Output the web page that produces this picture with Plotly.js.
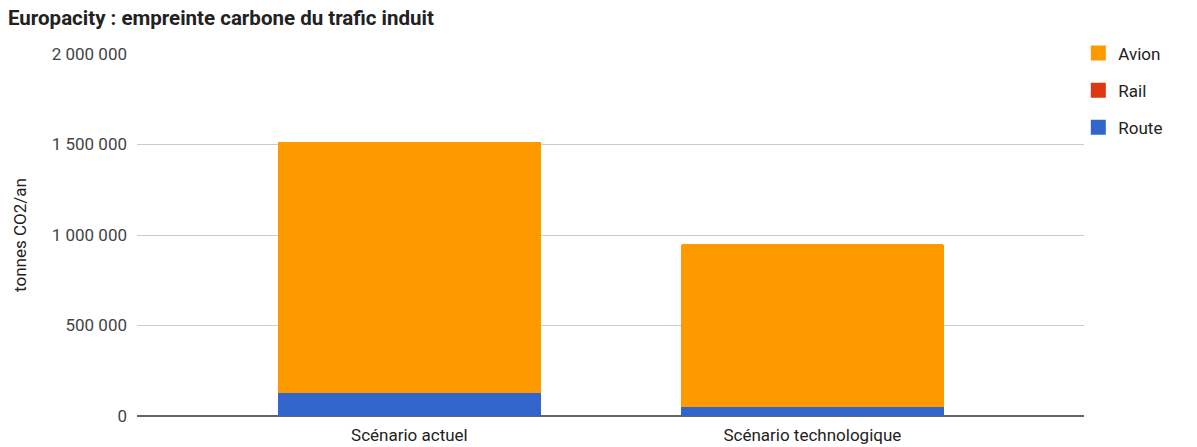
<!DOCTYPE html>
<html>
<head>
<meta charset="utf-8">
<script src="https://cdn.plot.ly/plotly-3.0.1.min.js"></script>
<style>
  html, body { margin: 0; padding: 0; background: #ffffff; }
  #chart { width: 1197px; height: 447px; }
</style>
</head>
<body>
<div id="chart"></div>
<script>
// Scénarios comparés
const scenarios = ["Scénario actuel", "Scénario technologique"];

// Émissions annuelles par mode de transport (tonnes CO2/an)
const route = [127000, 50000];
const rail = [800, 600];
const avion = [1387000, 898000];

const seriesNames = ["Route", "Rail", "Avion"];
const seriesColors = ["#3366cc", "#dc3912", "#ff9900"];
const seriesValues = [route, rail, avion];
// Legend lists Avion first, Route last
const legendRanks = [3, 2, 1];

const yTicks = [0, 500000, 1000000, 1500000, 2000000];

// Stacked bars (bottom to top: Route, Rail, Avion)
const barTraces = seriesValues.map((vals, i) => ({
  type: "bar",
  name: seriesNames[i],
  x: scenarios,
  y: vals,
  marker: { color: seriesColors[i], line: { width: 0 } },
  width: 0.653,
  showlegend: false,
  hoverinfo: "x+y+name"
}));

// Legend entries with larger square swatches
const legendTraces = seriesNames.map((name, i) => ({
  type: "scatter",
  mode: "markers",
  name: name,
  x: [null],
  y: [null],
  marker: { symbol: "square", size: 15, color: seriesColors[i] },
  legendgroup: name,
  legendrank: legendRanks[i],
  hoverinfo: "skip"
}));

const layout = {
  width: 1197,
  height: 447,
  barmode: "stack",
  barcornerradius: 2,
  separators: ", ",
  paper_bgcolor: "#ffffff",
  plot_bgcolor: "#ffffff",
  font: { family: "Roboto, Arial, sans-serif", size: 17, color: "#444444" },
  margin: { l: 137, r: 113, t: 54, b: 31.3, pad: 0 },
  title: {
    text: "<b>Europacity : empreinte carbone du trafic induit</b>",
    font: { family: "Roboto, Arial, sans-serif", size: 20.5, color: "#222222" },
    x: 8 / 1197, xanchor: "left", xref: "container",
    y: 1 - 18 / 447, yanchor: "middle", yref: "container"
  },
  xaxis: {
    type: "category",
    range: [-0.676, 1.674],
    showgrid: false,
    zeroline: false,
    showline: false,
    ticks: "",
    ticklabelstandoff: 7,
    tickfont: { size: 17, color: "#222222" },
    fixedrange: true
  },
  yaxis: {
    range: [0, 2000000],
    tickvals: yTicks,
    tickformat: ",d",
    showgrid: true,
    gridcolor: "#cccccc",
    gridwidth: 1,
    zeroline: true,
    zerolinecolor: "#666666",
    zerolinewidth: 2,
    showline: false,
    ticks: "",
    ticklabelstandoff: 9,
    tickfont: { size: 17, color: "#444444" },
    title: {
      text: "tonnes CO2/an",
      font: { size: 17, color: "#222222" },
      standoff: 20
    },
    fixedrange: true
  },
  showlegend: true,
  legend: {
    x: 0.994, xanchor: "left",
    y: 1.051, yanchor: "top",
    traceorder: "grouped",
    tracegroupgap: 12,
    itemwidth: 30,
    font: { size: 17, color: "#222222" },
    bgcolor: "rgba(0,0,0,0)"
  }
};

Plotly.newPlot("chart", barTraces.concat(legendTraces), layout, { displayModeBar: false, staticPlot: true });
</script>
</body>
</html>
